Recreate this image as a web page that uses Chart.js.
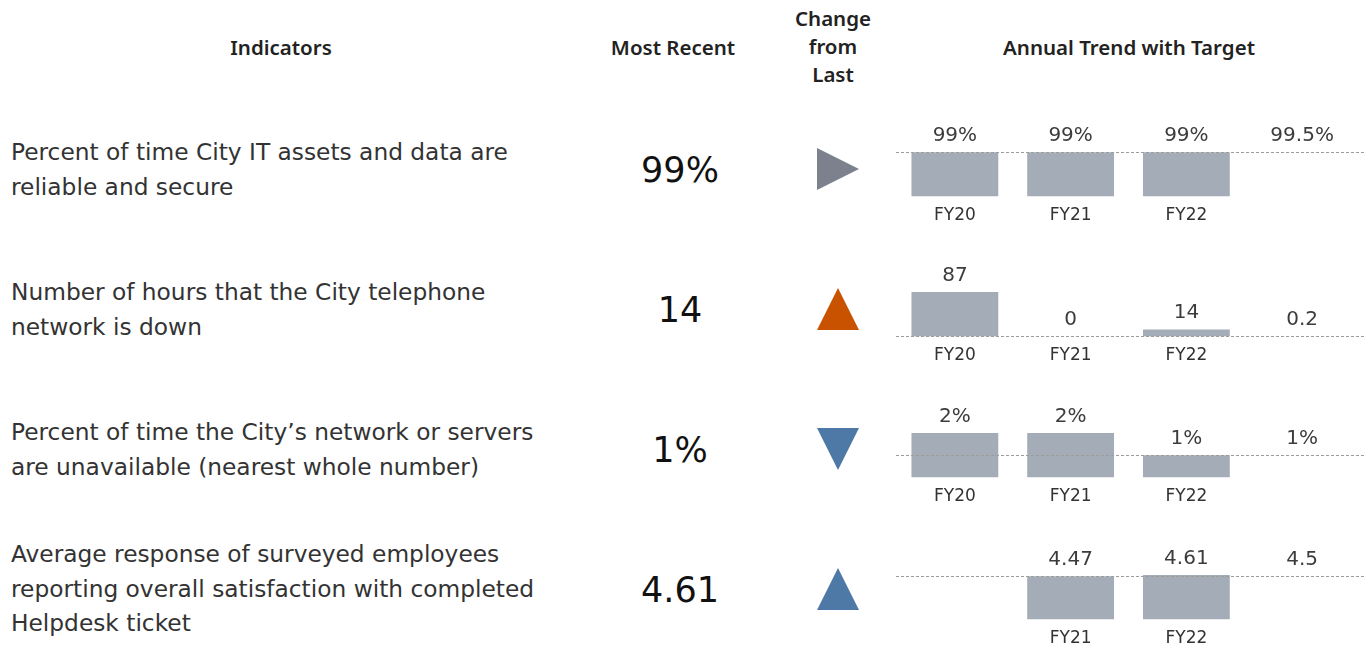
<!DOCTYPE html>
<html>
<head>
<meta charset="utf-8">
<script src="https://cdn.jsdelivr.net/npm/chart.js@4"></script>
<style>
  html, body { margin: 0; padding: 0; background: #fff; }
  body { width: 1368px; height: 649px; position: relative; overflow: hidden; font-family: 'DejaVu Sans', sans-serif; }
  .hdr { position: absolute; font-family: 'Noto Sans', sans-serif; font-weight: 600; font-size: 20.5px; color: #222; text-align: center; line-height: 28px; }
  .ind { position: absolute; left: 11px; font-size: 23.3px; line-height: 34.5px; color: #333; width: 600px; white-space: nowrap; }
  .recent { position: absolute; left: 600px; width: 160px; text-align: center; font-size: 35px; color: #111; line-height: 40px; }
  .box { position: absolute; }
</style>
</head>
<body>

<div class="hdr" style="left:181px; top:33px; width:200px;">Indicators</div>
<div class="hdr" style="left:573px; top:33px; width:200px;">Most Recent</div>
<div class="hdr" style="left:773px; top:4px; width:120px;">Change<br>from<br>Last</div>
<div class="hdr" style="left:979px; top:33px; width:300px;">Annual Trend with Target</div>

<div id="rows"></div>

<div class="box" style="left:800px; top:99px; width:76px; height:560px;"><canvas id="arrows"></canvas></div>

<script>
'use strict';

// ── Dati ─────────────────────────────────────────────
const years = ['FY20', 'FY21', 'FY22', ''];

const indicators = [
  'Percent of time City IT assets and data are<br>reliable and secure',
  'Number of hours that the City telephone<br>network is down',
  'Percent of time the City\u2019s network or servers<br>are unavailable (nearest whole number)',
  'Average response of surveyed employees<br>reporting overall satisfaction with completed<br>Helpdesk ticket'
];
const mostRecent = ['99%', '14', '1%', '4.61'];

const reliableVals = [99, 99, 99];
const phoneDownVals = [87, 0, 14];
const unavailVals = [2, 2, 1];
const satisfactionVals = [null, 4.47, 4.61];
const seriesVals = [reliableVals, phoneDownVals, unavailVals, satisfactionVals];

const targets = [99.5, 0.2, 1, 4.5];
const units = ['%', '', '%', ''];

// direzione rispetto all'anno precedente: 0 = stabile, 1 = su, -1 = giù
const changeDir = [0, 1, -1, 1];
const changeColor = ['#7b818d', '#c85200', '#4e79a7', '#4e79a7'];

// ── Layout righe ─────────────────────────────────────
const indTop = [135, 275, 415, 537];
const recentMid = [170, 310, 450, 590];
const chartTop = [122, 262, 403, 545];

const rowsEl = document.getElementById('rows');
indicators.forEach((txt, i) => {
  const d = document.createElement('div');
  d.className = 'ind';
  d.style.top = indTop[i] + 'px';
  d.innerHTML = txt;
  rowsEl.appendChild(d);

  const r = document.createElement('div');
  r.className = 'recent';
  r.style.top = (recentMid[i] - 20) + 'px';
  r.textContent = mostRecent[i];
  rowsEl.appendChild(r);

  const b = document.createElement('div');
  b.className = 'box';
  b.style.cssText = `left:890px; top:${chartTop[i]}px; width:478px; height:113px;`;
  b.innerHTML = `<canvas id="trend${i}"></canvas>`;
  rowsEl.appendChild(b);
});

// ── Plugin: linea target + etichette valori ──────────
const targetPlugin = {
  id: 'targetLine',
  afterDatasetsDraw(chart, args, opts) {
    const { ctx, chartArea, scales: { x, y } } = chart;
    const ty = Math.round(y.getPixelForValue(opts.value)) + 0.5;
    ctx.save();
    ctx.setLineDash([3, 2]);
    ctx.strokeStyle = '#9c9c9c';
    ctx.lineWidth = 1;
    ctx.beginPath();
    ctx.moveTo(chartArea.left - 1, ty);
    ctx.lineTo(chartArea.right + 4, ty);
    ctx.stroke();
    ctx.setLineDash([]);

    ctx.font = "20px 'DejaVu Sans', sans-serif";
    ctx.fillStyle = '#3c3c3c';
    ctx.textAlign = 'center';
    ctx.textBaseline = 'middle';
    const data = chart.data.datasets[0].data;
    chart.getDatasetMeta(0).data.forEach((bar, i) => {
      const v = data[i];
      if (v == null) return;
      ctx.fillText(v + opts.unit, bar.x, y.getPixelForValue(v) - 16.5);
    });
    ctx.fillText(opts.value + opts.unit, x.getPixelForValue(3), ty - 16.5);
    ctx.restore();
  }
};

seriesVals.forEach((vals, i) => {
  const maxV = Math.max(...vals.filter(v => v != null), targets[i]);
  new Chart(document.getElementById('trend' + i), {
    type: 'bar',
    data: {
      labels: years,
      datasets: [{
        data: vals,
        backgroundColor: '#a3acb7',
        categoryPercentage: 1,
        barPercentage: 0.75
      }]
    },
    options: {
      responsive: true,
      maintainAspectRatio: false,
      animation: false,
      layout: { padding: { top: 30, left: 7, right: 8, bottom: 0 } },
      plugins: {
        legend: { display: false },
        tooltip: { enabled: false },
        targetLine: { value: targets[i], unit: units[i] }
      },
      scales: {
        x: {
          grid: { display: false, drawTicks: false },
          border: { display: false },
          ticks: {
            color: '#333',
            font: { family: "'DejaVu Sans', sans-serif", size: 17 },
            padding: 9,
            // niente etichetta per gli anni senza dato
            callback: (v, idx) => vals[idx] == null ? '' : years[idx]
          }
        },
        y: { display: false, min: 0, max: maxV }
      }
    },
    plugins: [targetPlugin]
  });
});

// ── Frecce "Change from Last" ────────────────────────
function triangle(color) {
  const c = document.createElement('canvas');
  c.width = 42; c.height = 42;
  const g = c.getContext('2d');
  g.fillStyle = color;
  g.beginPath();
  g.moveTo(21, 0);
  g.lineTo(42, 42);
  g.lineTo(0, 42);
  g.closePath();
  g.fill();
  return c;
}
const triImgs = changeColor.map(triangle);
const rotation = changeDir.map(d => d === 0 ? 90 : (d > 0 ? 0 : 180));

new Chart(document.getElementById('arrows'), {
  type: 'scatter',
  data: {
    datasets: [{
      data: changeDir.map((d, i) => ({ x: 0.5, y: i })),
      pointStyle: ctx => triImgs[ctx.dataIndex],
      rotation: ctx => rotation[ctx.dataIndex],
      pointRadius: 21,
      clip: false
    }]
  },
  options: {
    responsive: true,
    maintainAspectRatio: false,
    animation: false,
    layout: { padding: 0, autoPadding: false },
    plugins: { legend: { display: false }, tooltip: { enabled: false } },
    scales: {
      x: { display: false, min: 0, max: 1 },
      y: { display: false, min: -0.5, max: 3.5, reverse: true }
    }
  }
});
</script>
</body>
</html>
